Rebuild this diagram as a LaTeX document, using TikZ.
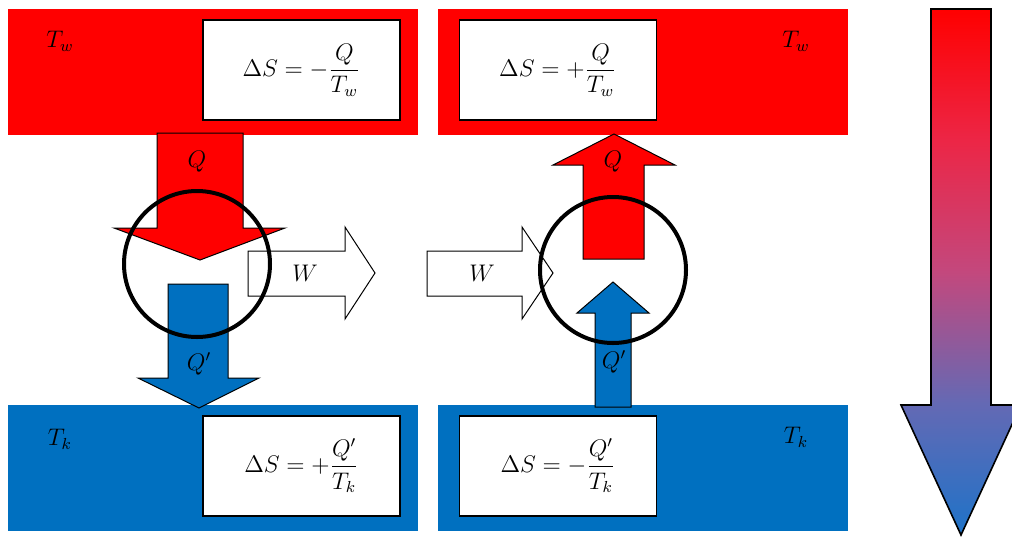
\documentclass[tikz,border=0pt]{standalone}
\usepackage{amsmath}
\usepackage{xcolor}
\usepackage{tikz}
\definecolor{hot}{RGB}{255,0,0}
\definecolor{cold}{RGB}{0,112,192}
\definecolor{gradB}{RGB}{30,115,200}
\definecolor{gradL}{RGB}{100,105,180}
\definecolor{gradM}{RGB}{195,72,125}
\definecolor{gradU}{RGB}{236,38,70}
\pgfdeclareverticalshading{hotcold}{100bp}{color(0bp)=(gradB); color(25bp)=(gradB);
  color(37.5bp)=(gradL); color(50bp)=(gradM); color(62.5bp)=(gradU);
  color(75bp)=(hot); color(100bp)=(hot)}

\begin{document}
\begin{tikzpicture}[x=0.5pt, y=-0.5pt,
  every node/.style={font=\large},
  dsbox/.style={draw, fill=white, line width=0.8pt, minimum width=98.5pt, minimum height=50pt, inner sep=0pt},
  blockarrow/.style={draw=black, line width=0.5pt, line join=miter},
  engine/.style={draw=black, line width=2pt}]
\clip (0,0) rectangle (1012,536);
% ---- reservoirs
\fill[hot]  (8,9) rectangle (418,135);
\fill[hot]  (438,9) rectangle (848,135);
\fill[cold] (8,405) rectangle (418,531);
\fill[cold] (438,405) rectangle (848,531);
\node (twL) at (60,41)  {$T_w$};
\node (twR) at (796,41) {$T_w$};
\node (tkL) at (60,439) {$T_k$};
\node (tkR) at (796,437) {$T_k$};
\node[dsbox] (dsA) at (301.5,70)  {$\displaystyle \Delta S = -\frac{Q}{T_w}$};
\node[dsbox] (dsB) at (558,70)    {$\displaystyle \Delta S = +\frac{Q}{T_w}$};
\node[dsbox] (dsC) at (301.5,466) {$\displaystyle \Delta S = +\frac{Q'}{T_k}$};
\node[dsbox] (dsD) at (558,466)   {$\displaystyle \Delta S = -\frac{Q'}{T_k}$};
% ---- left: engine
\draw[blockarrow, fill=hot]  (157,133) -- (243,133) -- (243,228) -- (285,228) -- (200,260)
  -- (114,228) -- (157,228) -- cycle;
\draw[blockarrow, fill=cold] (168,284) -- (228,284) -- (228,378) -- (259,378) -- (199,408)
  -- (138,378) -- (168,378) -- cycle;
\draw[blockarrow, fill=white] (248,251) -- (345,251) -- (345,227) -- (375,273) -- (345,319)
  -- (345,296) -- (248,296) -- cycle;
\draw[engine] (197,264) circle (36.5pt);
\node (qL)  at (197,162) {$Q$};
\node (qpL) at (199,364) {$Q'$};
\node (wL)  at (305,273) {$W$};
% ---- right: heat pump
\draw[blockarrow, fill=white] (427,251) -- (522,251) -- (522,227) -- (553,273) -- (522,319)
  -- (522,296) -- (427,296) -- cycle;
\draw[blockarrow, fill=hot]  (583,259) -- (583,165) -- (553,165) -- (614,134) -- (675,165)
  -- (644,165) -- (644,259) -- cycle;
\draw[blockarrow, fill=cold] (595,407) -- (595,313) -- (577,313) -- (613,282) -- (649,313)
  -- (631,313) -- (631,407) -- cycle;
\draw[engine] (613,270) circle (36.5pt);
\node (qR)  at (613,162) {$Q$};
\node (qpR) at (614,362) {$Q'$};
\node (wR)  at (482,273) {$W$};
% ---- temperature scale
\shadedraw[shading=hotcold, line width=0.8pt, line join=miter] (931,9) -- (991,9) -- (991,405)
  -- (1021,405) -- (961,535) -- (901,405) -- (931,405) -- cycle;
\end{tikzpicture}
\end{document}
